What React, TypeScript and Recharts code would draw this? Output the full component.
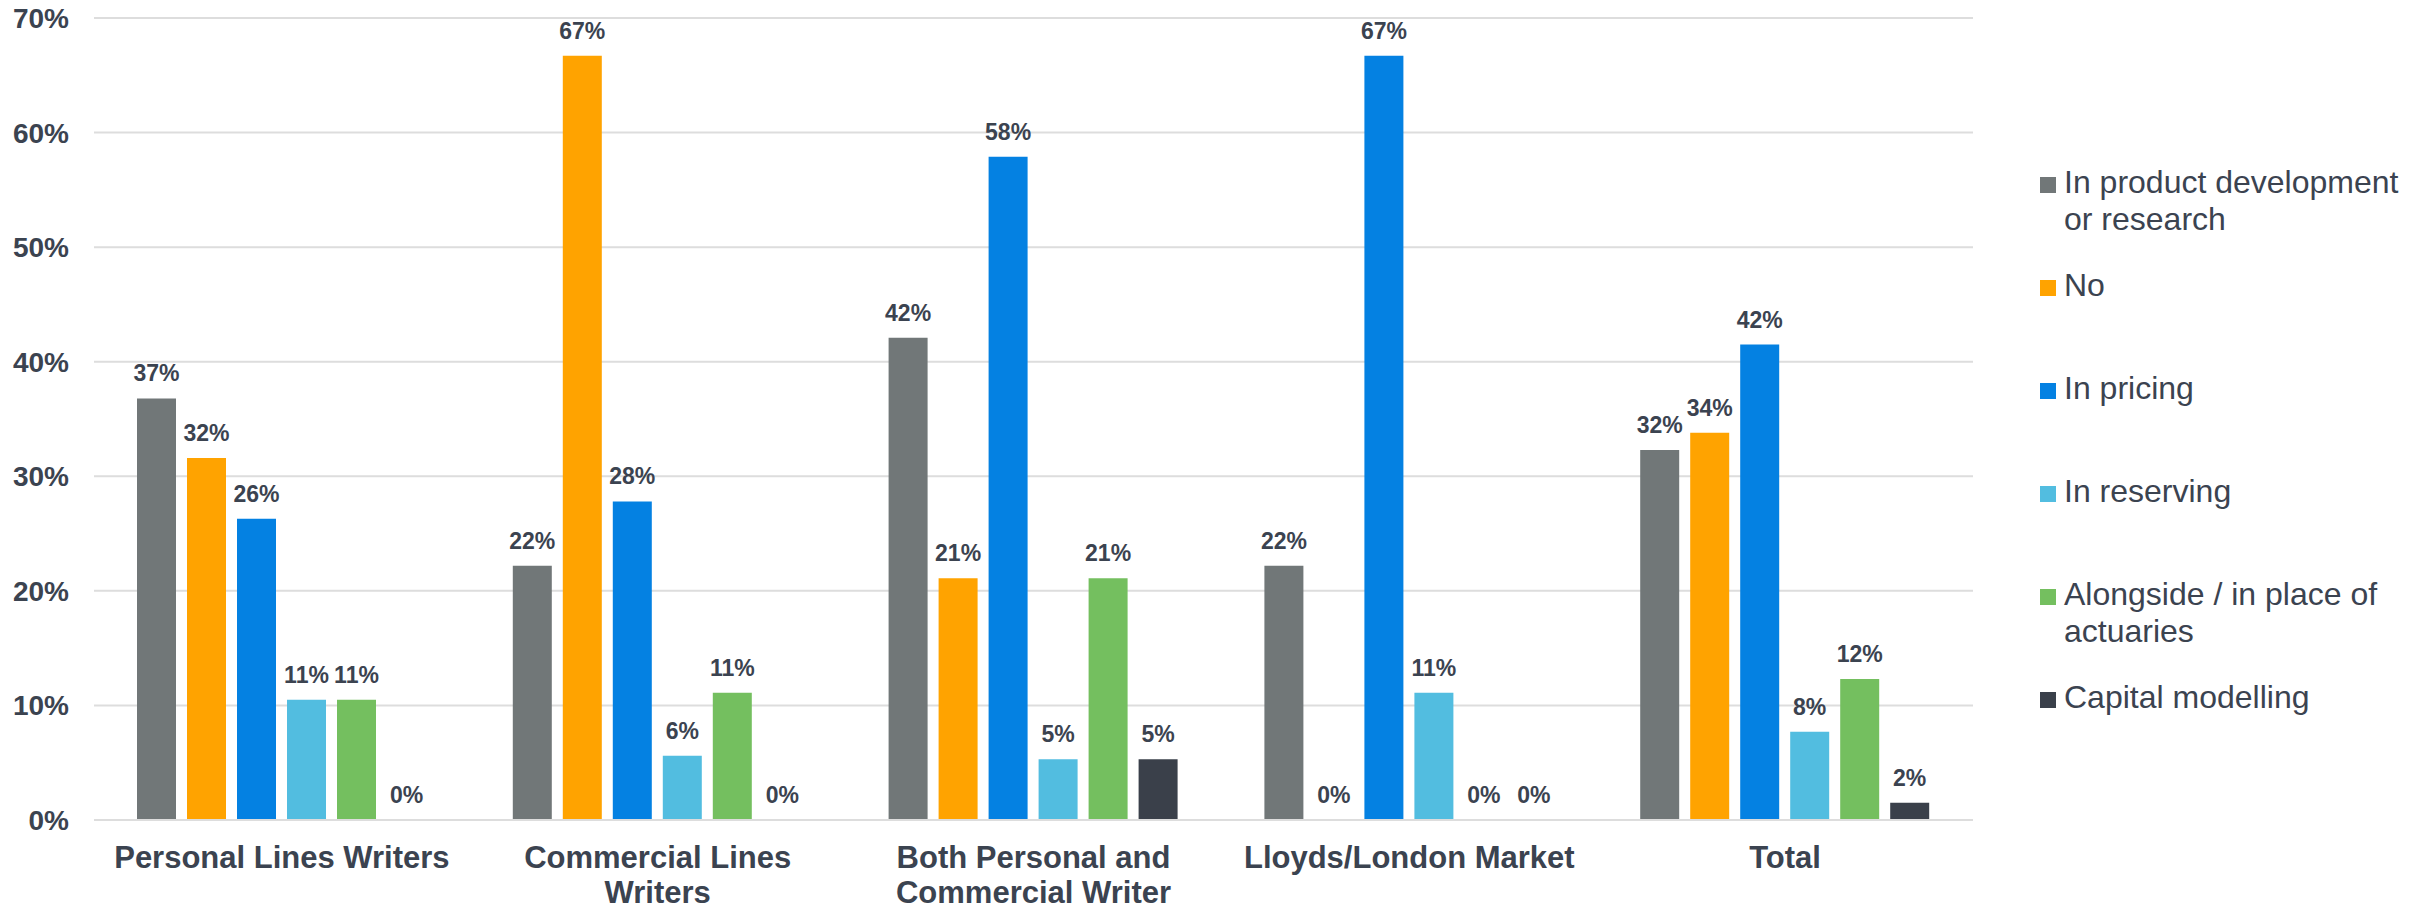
import React from 'react';
import { BarChart, Bar, XAxis, YAxis, CartesianGrid, Legend, LabelList } from 'recharts';

// categories along the x axis
const categories = [
  'Personal Lines Writers',
  'Commercial Lines Writers',
  'Both Personal and Commercial Writer',
  'Lloyds/London Market',
  'Total',
];

// share of respondents, in percent
const productDev = [36.8, 22.2, 42.1, 22.2, 32.3];
const noUse = [31.6, 66.7, 21.1, 0, 33.8];
const pricing = [26.3, 27.8, 57.9, 66.7, 41.5];
const reserving = [10.5, 5.6, 5.3, 11.1, 7.7];
const alongside = [10.5, 11.1, 21.1, 0, 12.3];
const capital = [0, 0, 5.3, 0, 1.5];

const yTicks = [0, 10, 20, 30, 40, 50, 60, 70];

const seriesNames = [
  'In product development or research',
  'No',
  'In pricing',
  'In reserving',
  'Alongside / in place of actuaries',
  'Capital modelling',
];

const COLORS = ['#717778', '#FFA300', '#0481E2', '#52BDE0', '#74BF5F', '#3A404A'];
const TEXT = '#3B4350';
const FONT = '"Liberation Sans", Arial, sans-serif';

const data = categories.map((name, i) => ({
  name,
  s0: productDev[i],
  s1: noUse[i],
  s2: pricing[i],
  s3: reserving[i],
  s4: alongside[i],
  s5: capital[i],
}));

// split a tick label into lines of at most maxChars
const wrap = (label: string, maxChars = 22) => {
  const lines: string[] = [];
  let cur = '';
  label.split(' ').forEach((w) => {
    const next = cur ? cur + ' ' + w : w;
    if (next.length > maxChars && cur) {
      lines.push(cur);
      cur = w;
    } else {
      cur = next;
    }
  });
  if (cur) lines.push(cur);
  return lines;
};

const CategoryTick = (props: any) => {
  const { x, y, payload } = props;
  const lines = wrap(String(payload.value));
  return (
    <text x={x} y={y} textAnchor="middle" fill={TEXT} fontSize={31} fontWeight="bold" fontFamily={FONT}>
      {lines.map((l, i) => (
        <tspan key={i} x={x} y={y + 48 + i * 35}>
          {l}
        </tspan>
      ))}
    </text>
  );
};

// legend keeps the series order (recharts would sort it by name)
const renderLegend = () => (
  <div style={{ position: 'relative', width: 390, height: 620, fontFamily: FONT }}>
    {seriesNames.map((name, i) => (
      <div key={name} style={{ position: 'absolute', left: 0, top: i * 103, width: 390, height: 103 }}>
        <div
          style={{
            position: 'absolute',
            left: 0,
            top: 13,
            width: 16,
            height: 16,
            background: COLORS[i],
          }}
        />
        <div
          style={{
            position: 'absolute',
            left: 24,
            top: 0,
            width: 356,
            fontSize: 32,
            lineHeight: '37px',
            color: TEXT,
          }}
        >
          {name}
        </div>
      </div>
    ))}
  </div>
);

const labelProps = {
  position: 'top' as const,
  offset: 17,
  fill: TEXT,
  fontSize: 23,
  fontWeight: 'bold',
  fontFamily: FONT,
  formatter: (v: any) => `${Math.round(Number(v))}%`,
};

export default function App() {
  return (
    <div style={{ position: 'absolute', left: 0, top: 0, background: '#fff' }}>
      <BarChart
        width={2430}
        height={910}
        data={data}
        margin={{ top: 18, right: 457, bottom: 0, left: 0 }}
        barSize={39}
        barGap={11}
      >
        <CartesianGrid vertical={false} stroke="#DDDDDD" strokeWidth={2} />
        <XAxis
          dataKey="name"
          height={90}
          tickLine={false}
          tickSize={0}
          tickMargin={0}
          axisLine={{ stroke: '#DDDDDD', strokeWidth: 2 }}
          tick={<CategoryTick />}
          interval={0}
        />
        <YAxis
          width={94}
          domain={[0, 70]}
          ticks={yTicks}
          tickFormatter={(v) => `${v}%`}
          axisLine={false}
          tickLine={false}
          tickSize={0}
          tickMargin={25}
          tick={{ fill: TEXT, fontSize: 28, fontWeight: 'bold', fontFamily: FONT }}
        />
        <Legend
          layout="vertical"
          align="center"
          verticalAlign="middle"
          content={renderLegend}
          wrapperStyle={{ left: 2040, top: 164, width: 390, height: 620 }}
        />
        {seriesNames.map((name, i) => (
          <Bar
            key={name}
            dataKey={`s${i}`}
            name={name}
            fill={COLORS[i]}
            minPointSize={(v: any) => (Number(v) === 0 ? 0.01 : 0)}
            isAnimationActive={false}
          >
            <LabelList dataKey={`s${i}`} {...labelProps} />
          </Bar>
        ))}
      </BarChart>
    </div>
  );
}
